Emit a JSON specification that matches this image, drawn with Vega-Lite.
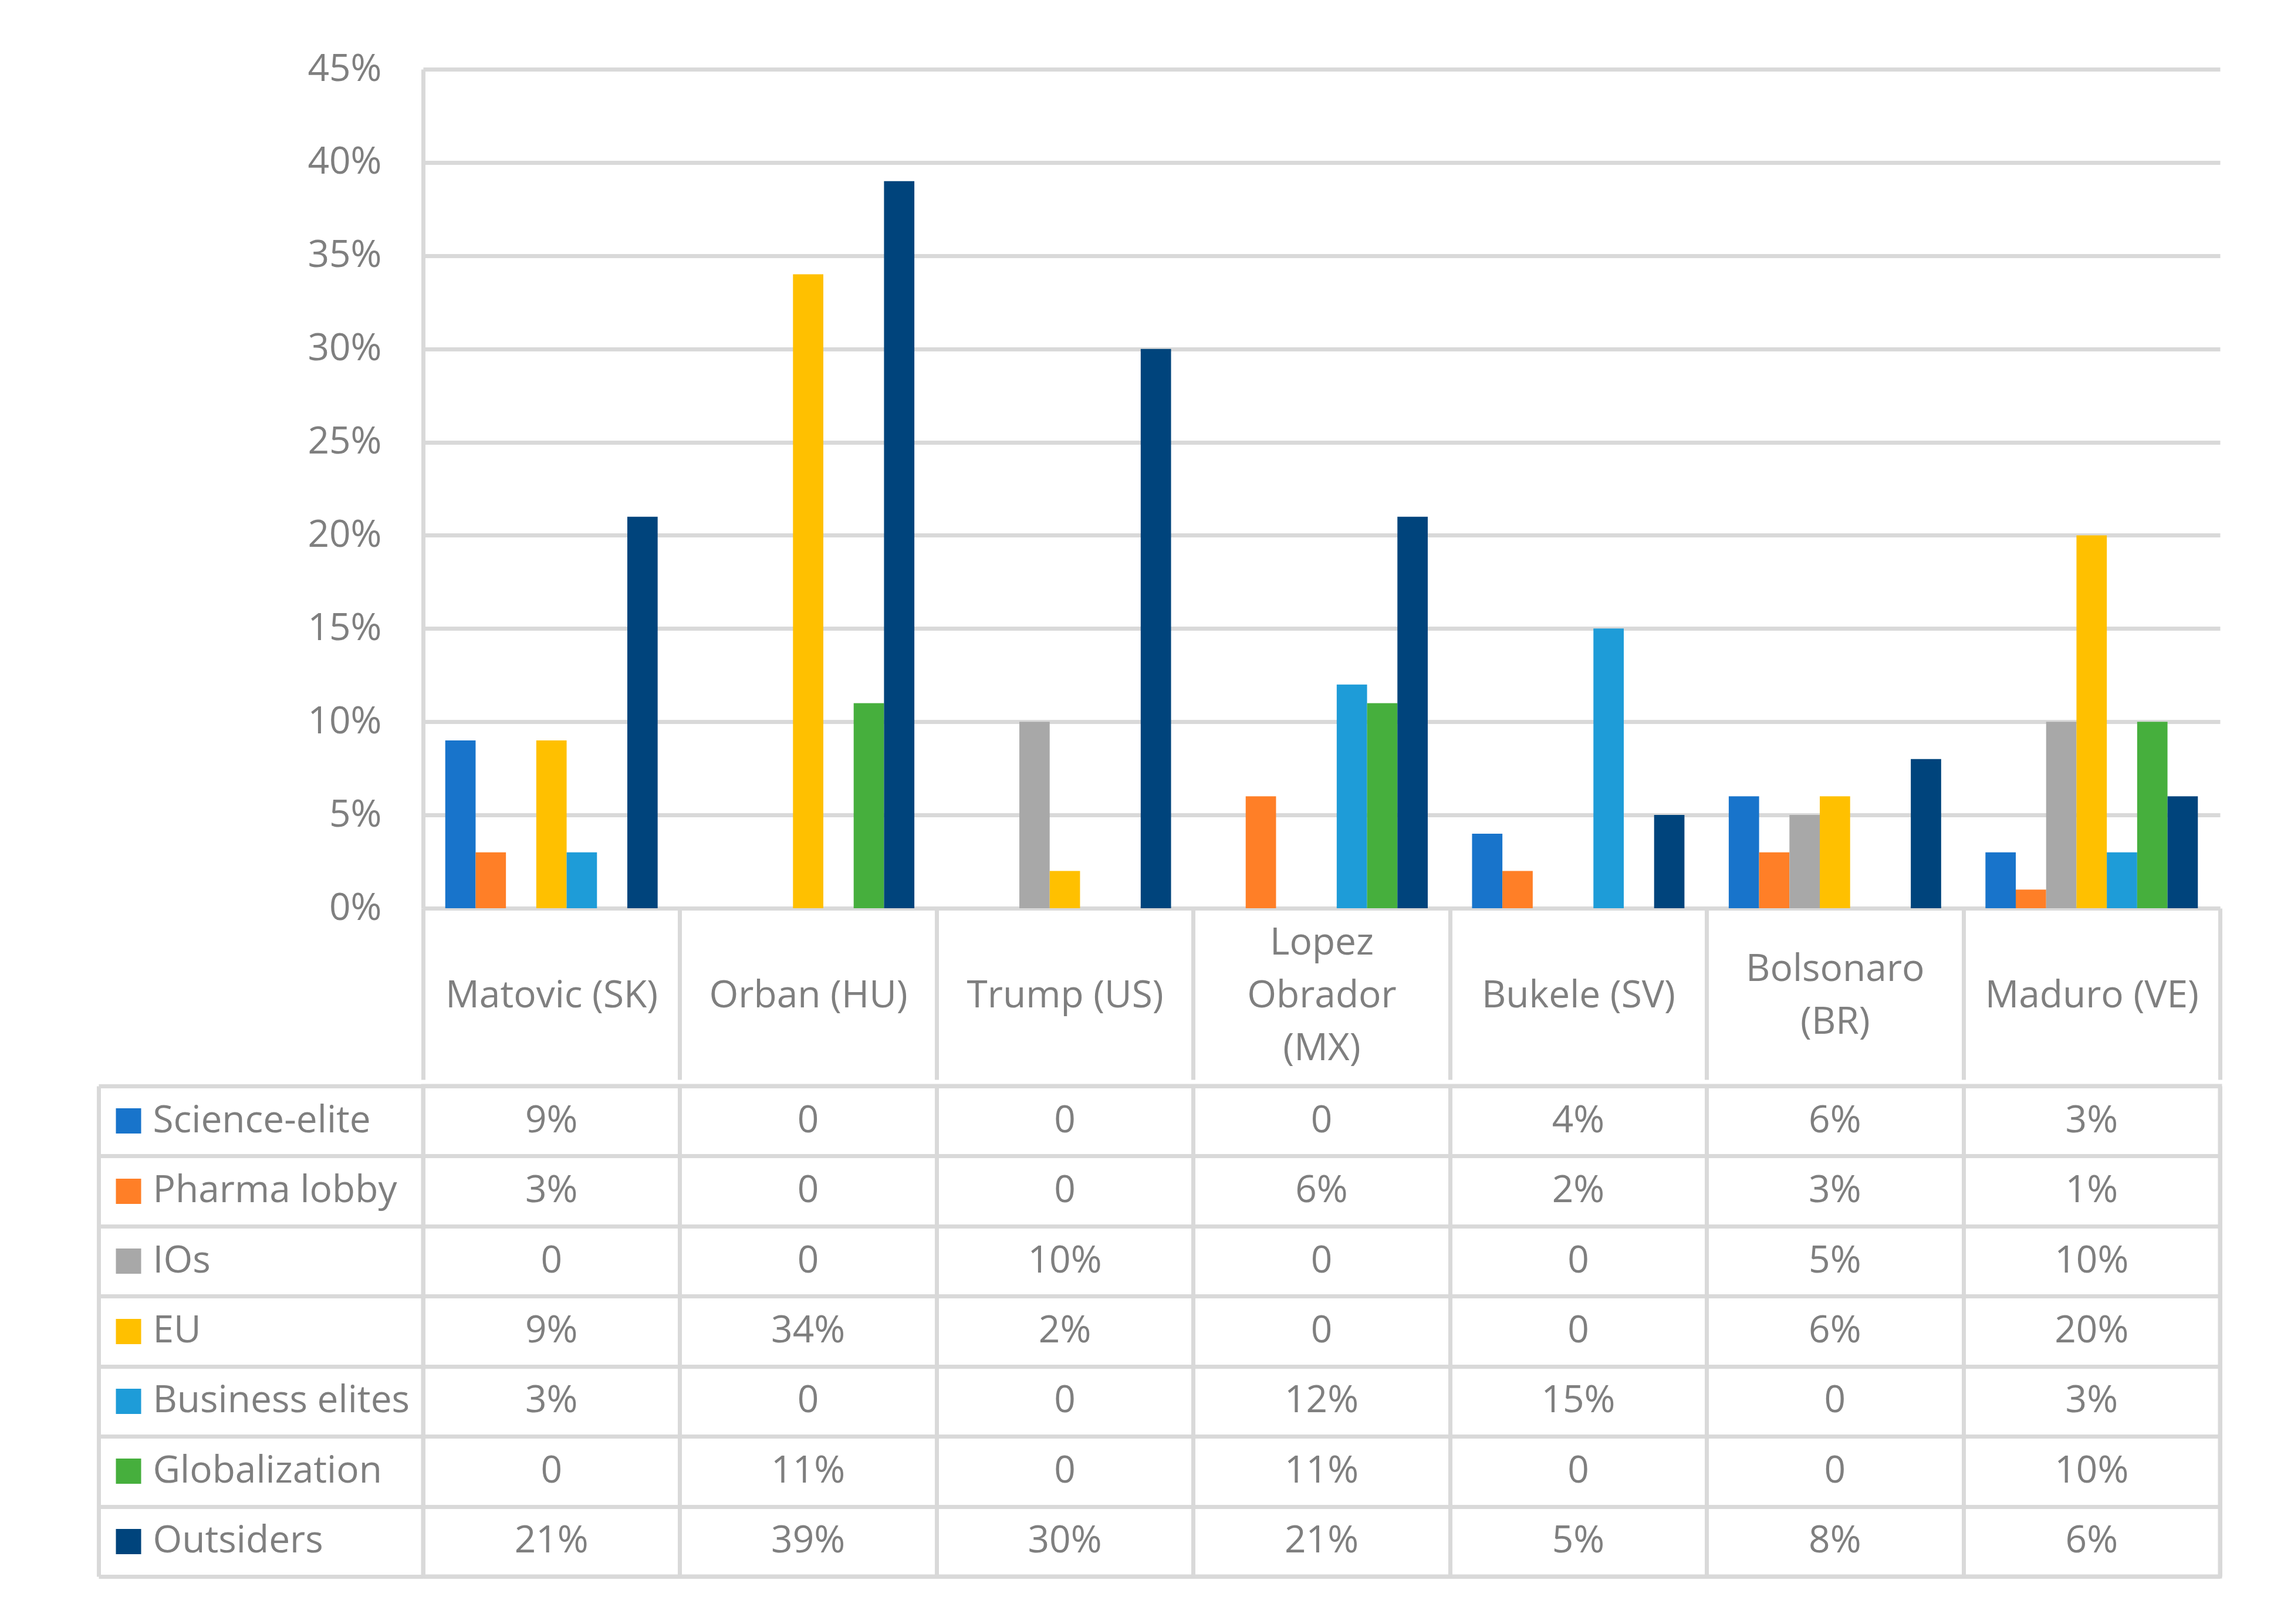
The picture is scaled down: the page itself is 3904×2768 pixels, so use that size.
{
  "$schema": "https://vega.github.io/schema/vega-lite/v6.json",
  "background": "white",
  "padding": {"left": 161, "top": 86, "right": 40, "bottom": 40},
  "spacing": 0,
  "config": {
    "font": "Open Sans",
    "view": {"stroke": null},
    "axis": {"labelFont": "Open Sans", "labelColor": "#7F7F7F", "labelFontSize": 64, "titleFont": "Open Sans"}
  },
  "datasets": {
    "d": [
      {"leader": "Matovic (SK)", "target": "Science-elite", "share": 0.09},
      {"leader": "Orban (HU)", "target": "Science-elite", "share": 0},
      {"leader": "Trump (US)", "target": "Science-elite", "share": 0},
      {"leader": "Lopez Obrador (MX)", "target": "Science-elite", "share": 0},
      {"leader": "Bukele (SV)", "target": "Science-elite", "share": 0.04},
      {"leader": "Bolsonaro (BR)", "target": "Science-elite", "share": 0.06},
      {"leader": "Maduro (VE)", "target": "Science-elite", "share": 0.03},
      {"leader": "Matovic (SK)", "target": "Pharma lobby", "share": 0.03},
      {"leader": "Orban (HU)", "target": "Pharma lobby", "share": 0},
      {"leader": "Trump (US)", "target": "Pharma lobby", "share": 0},
      {"leader": "Lopez Obrador (MX)", "target": "Pharma lobby", "share": 0.06},
      {"leader": "Bukele (SV)", "target": "Pharma lobby", "share": 0.02},
      {"leader": "Bolsonaro (BR)", "target": "Pharma lobby", "share": 0.03},
      {"leader": "Maduro (VE)", "target": "Pharma lobby", "share": 0.01},
      {"leader": "Matovic (SK)", "target": "IOs", "share": 0},
      {"leader": "Orban (HU)", "target": "IOs", "share": 0},
      {"leader": "Trump (US)", "target": "IOs", "share": 0.10},
      {"leader": "Lopez Obrador (MX)", "target": "IOs", "share": 0},
      {"leader": "Bukele (SV)", "target": "IOs", "share": 0},
      {"leader": "Bolsonaro (BR)", "target": "IOs", "share": 0.05},
      {"leader": "Maduro (VE)", "target": "IOs", "share": 0.10},
      {"leader": "Matovic (SK)", "target": "EU", "share": 0.09},
      {"leader": "Orban (HU)", "target": "EU", "share": 0.34},
      {"leader": "Trump (US)", "target": "EU", "share": 0.02},
      {"leader": "Lopez Obrador (MX)", "target": "EU", "share": 0},
      {"leader": "Bukele (SV)", "target": "EU", "share": 0},
      {"leader": "Bolsonaro (BR)", "target": "EU", "share": 0.06},
      {"leader": "Maduro (VE)", "target": "EU", "share": 0.20},
      {"leader": "Matovic (SK)", "target": "Business elites", "share": 0.03},
      {"leader": "Orban (HU)", "target": "Business elites", "share": 0},
      {"leader": "Trump (US)", "target": "Business elites", "share": 0},
      {"leader": "Lopez Obrador (MX)", "target": "Business elites", "share": 0.12},
      {"leader": "Bukele (SV)", "target": "Business elites", "share": 0.15},
      {"leader": "Bolsonaro (BR)", "target": "Business elites", "share": 0},
      {"leader": "Maduro (VE)", "target": "Business elites", "share": 0.03},
      {"leader": "Matovic (SK)", "target": "Globalization", "share": 0},
      {"leader": "Orban (HU)", "target": "Globalization", "share": 0.11},
      {"leader": "Trump (US)", "target": "Globalization", "share": 0},
      {"leader": "Lopez Obrador (MX)", "target": "Globalization", "share": 0.11},
      {"leader": "Bukele (SV)", "target": "Globalization", "share": 0},
      {"leader": "Bolsonaro (BR)", "target": "Globalization", "share": 0},
      {"leader": "Maduro (VE)", "target": "Globalization", "share": 0.10},
      {"leader": "Matovic (SK)", "target": "Outsiders", "share": 0.21},
      {"leader": "Orban (HU)", "target": "Outsiders", "share": 0.39},
      {"leader": "Trump (US)", "target": "Outsiders", "share": 0.30},
      {"leader": "Lopez Obrador (MX)", "target": "Outsiders", "share": 0.21},
      {"leader": "Bukele (SV)", "target": "Outsiders", "share": 0.05},
      {"leader": "Bolsonaro (BR)", "target": "Outsiders", "share": 0.08},
      {"leader": "Maduro (VE)", "target": "Outsiders", "share": 0.06}
    ]
  },
  "vconcat": [
    {
      "width": 3062,
      "height": 1430,
      "data": {"name": "d"},
      "mark": {"type": "bar"},
      "encoding": {
        "x": {
          "field": "leader", "type": "nominal",
          "sort": ["Matovic (SK)", "Orban (HU)", "Trump (US)", "Lopez Obrador (MX)", "Bukele (SV)", "Bolsonaro (BR)", "Maduro (VE)"],
          "scale": {"paddingInner": 0, "paddingOuter": 0},
          "axis": {
            "title": null, "orient": "bottom", "labelAngle": 0,
            "domain": true, "domainColor": "#D9D9D9", "domainWidth": 7,
            "ticks": true, "tickBand": "extent", "tickSize": 292, "tickColor": "#D9D9D9", "tickWidth": 7,
            "grid": false,
            "labelExpr": "datum.value == 'Lopez Obrador (MX)' ? ['Lopez', 'Obrador', '(MX)'] : datum.value == 'Bolsonaro (BR)' ? ['Bolsonaro', '(BR)'] : datum.label",
            "labelBaseline": "middle",
            "labelPadding": {
              "condition": [
                {"test": "datum.value == 'Lopez Obrador (MX)'", "value": -233},
                {"test": "datum.value == 'Bolsonaro (BR)'", "value": -188}
              ],
              "value": -143
            },
            "labelLineHeight": 90,
            "labelOverlap": false, "labelFlush": false, "labelLimit": 0
          }
        },
        "xOffset": {
          "field": "target", "type": "nominal",
          "sort": ["Science-elite", "Pharma lobby", "IOs", "EU", "Business elites", "Globalization", "Outsiders"],
          "scale": {"paddingInner": 0, "paddingOuter": 0.73}
        },
        "y": {
          "field": "share", "type": "quantitative",
          "scale": {"domain": [0, 0.45], "nice": false},
          "axis": {
            "title": null, "format": ".0%", "values": [0, 0.05, 0.1, 0.15, 0.2, 0.25, 0.3, 0.35, 0.4, 0.45],
            "domain": true, "domainColor": "#D9D9D9", "domainWidth": 7,
            "ticks": false, "labelPadding": 71,
            "grid": true, "gridColor": "#D9D9D9", "gridWidth": 7
          }
        },
        "color": {
          "field": "target", "type": "nominal",
          "scale": {
            "domain": ["Science-elite", "Pharma lobby", "IOs", "EU", "Business elites", "Globalization", "Outsiders"],
            "range": ["#1874CB", "#FF7F27", "#A8A8A8", "#FFC000", "#1E9CD8", "#46AF3D", "#00447C"]
          },
          "legend": null
        }
      }
    },
    {
      "width": 3062,
      "height": 836,
      "view": {"stroke": "#D9D9D9", "strokeWidth": 7},
      "data": {"name": "d"},
      "resolve": {"axis": {"y": "independent"}},
      "layer": [
        {
          "mark": {"type": "text", "fontSize": 64, "color": "#7F7F7F", "font": "Open Sans", "baseline": "middle", "align": "center"},
          "encoding": {
            "x": {
              "field": "leader", "type": "nominal",
              "sort": ["Matovic (SK)", "Orban (HU)", "Trump (US)", "Lopez Obrador (MX)", "Bukele (SV)", "Bolsonaro (BR)", "Maduro (VE)"],
              "scale": {"paddingInner": 0, "paddingOuter": 0},
              "axis": {"title": null, "orient": "top", "labels": false, "ticks": false, "domain": false, "grid": true, "tickBand": "extent", "gridColor": "#D9D9D9", "gridWidth": 7}
            },
            "y": {
              "field": "target", "type": "nominal",
              "sort": ["Science-elite", "Pharma lobby", "IOs", "EU", "Business elites", "Globalization", "Outsiders"],
              "scale": {"paddingInner": 0, "paddingOuter": 0},
              "axis": {
                "title": null, "orient": "left", "offset": 553,
                "domain": true, "domainColor": "#D9D9D9", "domainWidth": 7,
                "ticks": true, "tickBand": "extent", "tickSize": -553, "tickColor": "#D9D9D9", "tickWidth": 7,
                "labels": false,
                "grid": true, "gridColor": "#D9D9D9", "gridWidth": 7
              }
            },
            "text": {"condition": {"test": "datum.share == 0", "value": "0"}, "field": "share", "type": "quantitative", "format": ".0%"}
          }
        },
        {
          "mark": {"type": "text", "text": ""},
          "encoding": {
            "y": {
              "field": "target", "type": "nominal",
              "sort": ["Science-elite", "Pharma lobby", "IOs", "EU", "Business elites", "Globalization", "Outsiders"],
              "axis": {
                "title": null, "orient": "left", "offset": 481,
                "domain": false, "grid": false,
                "ticks": true, "tickSize": 43, "tickWidth": 43, "tickCap": "butt",
                "tickColor": {
                  "condition": [
                    {"test": "datum.value === 'Science-elite'", "value": "#1874CB"},
                    {"test": "datum.value === 'Pharma lobby'", "value": "#FF7F27"},
                    {"test": "datum.value === 'IOs'", "value": "#A8A8A8"},
                    {"test": "datum.value === 'EU'", "value": "#FFC000"},
                    {"test": "datum.value === 'Business elites'", "value": "#1E9CD8"},
                    {"test": "datum.value === 'Globalization'", "value": "#46AF3D"}
                  ],
                  "value": "#00447C"
                },
                "labels": true, "labelAlign": "left", "labelBaseline": "middle", "labelPadding": -63, "labelLimit": 0
              }
            }
          }
        }
      ]
    }
  ]
}
